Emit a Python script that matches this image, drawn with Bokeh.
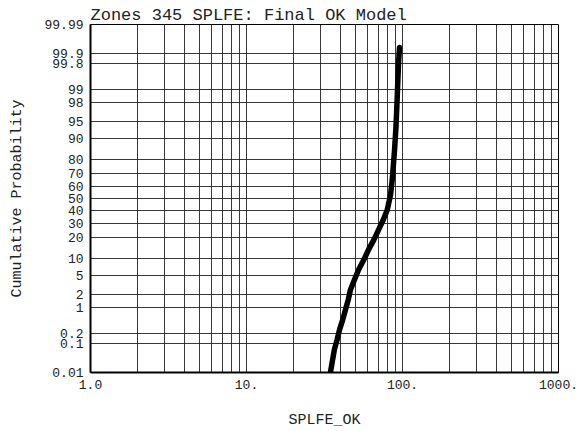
from statistics import NormalDist
from bokeh.plotting import figure
from bokeh.models import FixedTicker, Range1d
from bokeh.embed import file_html
from bokeh.resources import INLINE

# Data (value of SPLFE_OK, cumulative probability in %)
splfe_ok = [34.6, 36.6, 38.1, 39.5, 41.4, 43.1, 44.9, 46.4, 49.2, 52.3, 56.5, 60.5,
            65.5, 70.2, 75.2, 79.8, 83.8, 85.9, 88.9, 90.8, 92.5, 94.3, 95.7]
cum_prob = [0.011, 0.062, 0.128, 0.254, 0.481, 0.875, 1.53, 2.56, 4.12, 6.38, 9.5, 13.6,
            18.8, 25.1, 32.3, 40.3, 53.0, 65.3, 84.9, 93.6, 98.47, 99.81, 99.938]

prob_ticks = [0.01, 0.1, 0.2, 1, 2, 5, 10, 20, 30, 40, 50, 60, 70, 80, 90, 95, 98, 99, 99.8, 99.9, 99.99]
prob_labels = ["0.01", "0.1", "0.2", "1", "2", "5", "10", "20", "30", "40", "50", "60", "70", "80",
               "90", "95", "98", "99", "99.8", "99.9", "99.99"]
x_ticks = [1, 10, 100, 1000]
x_tick_labels = ["1.0", "10.", "100.", "1000."]
x_grid = [m * 10 ** d for d in range(3) for m in range(1, 10)] + [1000]

title_text = "Zones 345 SPLFE: Final OK Model"
x_label = "SPLFE_OK"
y_label = "Cumulative Probability"

nd = NormalDist()
def z(p):
    return nd.inv_cdf(p / 100.0)

y_vals = [z(p) for p in cum_prob]
y_tick_pos = [z(p) for p in prob_ticks]

FONT = "Liberation Mono"

p = figure(width=578, height=431, x_axis_type="log", output_backend="svg", toolbar_location=None,
           x_range=Range1d(1, 1000), y_range=Range1d(z(0.01), z(99.99)),
           min_border_left=90, min_border_right=20, min_border_top=24, min_border_bottom=58,
           title=title_text)

p.title.align = "left"
p.title.offset = 0
p.title.standoff = 0
p.title.text_font = FONT
p.title.text_font_size = "17px"
p.title.text_font_style = "normal"
p.title.text_color = "#222222"

p.line(splfe_ok, y_vals, line_color="black", line_width=5.5, line_cap="round", line_join="round")

# axes
p.xaxis.ticker = FixedTicker(ticks=x_ticks)
p.xaxis.major_label_overrides = {t: l for t, l in zip(x_ticks, x_tick_labels)}
p.yaxis.ticker = FixedTicker(ticks=y_tick_pos)
p.yaxis.major_label_overrides = {t: l for t, l in zip(y_tick_pos, prob_labels)}
for ax in (p.xaxis, p.yaxis):
    ax.major_tick_line_color = None
    ax.minor_tick_line_color = None
    ax.major_tick_out = 0
    ax.major_tick_in = 0
    ax.axis_line_color = "black"
    ax.axis_line_width = 2
    ax.major_label_text_font = FONT
    ax.major_label_text_font_size = "13px"
    ax.major_label_text_color = "#222222"
    ax.axis_label_text_font = FONT
    ax.axis_label_text_font_size = "15px"
    ax.axis_label_text_font_style = "normal"
    ax.axis_label_text_color = "#222222"
p.xaxis.axis_label = x_label
p.yaxis.axis_label = y_label
p.xaxis.major_label_standoff = 7
p.xaxis.axis_label_standoff = 20
p.yaxis.major_label_standoff = 7
p.yaxis.axis_label_standoff = 15

# grid
p.xgrid.ticker = FixedTicker(ticks=x_grid)
p.ygrid.ticker = FixedTicker(ticks=y_tick_pos)
for g in (p.xgrid, p.ygrid):
    g.grid_line_color = "#222222"
    g.grid_line_width = 1
    g.grid_line_alpha = 0.9

p.outline_line_color = "black"
p.outline_line_width = 1
p.background_fill_color = "white"
p.border_fill_color = "white"

open("out.html", "w").write(file_html(p, INLINE))
